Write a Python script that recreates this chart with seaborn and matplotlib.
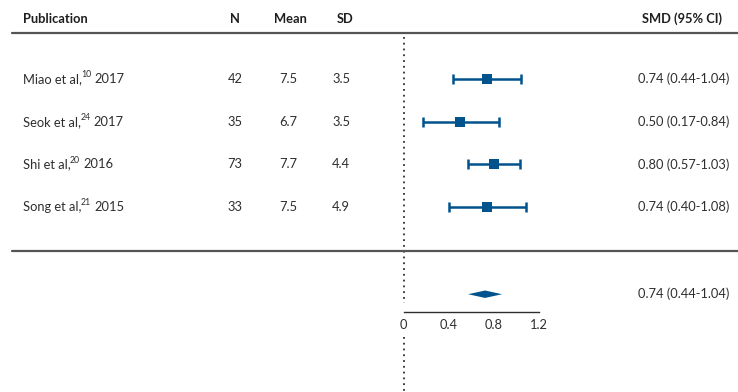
import numpy as np
import pandas as pd
import seaborn as sns
import matplotlib.pyplot as plt
from matplotlib.lines import Line2D
from matplotlib.ticker import MultipleLocator
from matplotlib.transforms import blended_transform_factory, offset_copy

sns.set_style("white")
plt.rcParams["font.family"] = ["Lato", "DejaVu Sans"]

DPI = 100
FIGSIZE = (7.38, 3.92)
BLUE = "#00538c"
TEXT = "#2e2e2e"
LINE = "#555555"
FS = 9.3
FS_SUP = 6.3

# data
AUTHORS = ["Miao et al,", "Seok et al,", "Shi et al,", "Song et al,"]
REFS = ["10", "24", "20", "21"]
YEARS = ["2017", "2017", "2016", "2015"]
N = [42, 35, 73, 33]
MEAN = [7.5, 6.7, 7.7, 7.5]
SD = [3.5, 3.5, 4.4, 4.9]
SMD = [0.74, 0.50, 0.80, 0.74]
CI_LOW = [0.44, 0.17, 0.57, 0.40]
CI_HIGH = [1.04, 0.84, 1.03, 1.08]
POOLED_LABEL = "0.74 (0.44-1.04)"
POOLED_DIAMOND = [0.57, 0.72, 0.87]  # left, centre, right as drawn
HEADERS = ["Publication", "N", "Mean", "SD", "SMD (95% CI)"]
X_TICKS = [0, 0.4, 0.8, 1.2]

df = pd.DataFrame({"author": AUTHORS, "ref": REFS, "year": YEARS, "n": N,
                   "mean": MEAN, "sd": SD, "smd": SMD, "lo": CI_LOW, "hi": CI_HIGH})
df["row"] = np.arange(len(df))
df["label"] = [f"{s:.2f} ({l:.2f}-{h:.2f})" for s, l, h in zip(df.smd, df.lo, df.hi)]

# layout (row units)
Y_HEADER = -1.41
Y_TOPLINE = -1.07
Y_MIDLINE = 4.03
Y_POOLED = 5.04
Y_AXIS = 5.45
W = 738.0

fig = plt.figure(figsize=FIGSIZE, dpi=DPI)
ax = fig.add_axes([403.7 / W, 0, 135.6 / W, 1])
ax.set_xlim(0, 1.2)
ax.set_ylim(7.33, -1.85)
tr = blended_transform_factory(fig.transFigure, ax.transData)
renderer = fig.canvas.get_renderer()

# reference line at zero
ax.vlines(0, -0.98, 5.25, colors=TEXT, linestyles=(0, (1, 2.2)), lw=1.3, clip_on=False)
ax.vlines(0, 6.04, 7.4, colors=TEXT, linestyles=(0, (1, 2.2)), lw=1.3, clip_on=False)

# study estimates
ax.errorbar(df.smd, df.row, xerr=[df.smd - df.lo, df.hi - df.smd], fmt="none",
            ecolor=BLUE, elinewidth=1.8, capsize=3.4, capthick=1.8, zorder=2)
sns.scatterplot(data=df, x="smd", y="row", marker="s", s=48, color=BLUE,
                linewidth=0, ax=ax, zorder=3, legend=False)

# pooled diamond
l, c, r = POOLED_DIAMOND
h = 0.087
ax.fill([l, c, r, c], [Y_POOLED, Y_POOLED - h, Y_POOLED, Y_POOLED + h],
        color=BLUE, lw=0, zorder=3)

# x axis
for side in ["top", "left", "right"]:
    ax.spines[side].set_visible(False)
ax.spines["bottom"].set_position(("data", Y_AXIS))
ax.spines["bottom"].set_color(TEXT)
ax.spines["bottom"].set_linewidth(1.0)
ax.set_xticks(X_TICKS)
ax.set_xticklabels([f"{t:g}" for t in X_TICKS])
ax.xaxis.set_minor_locator(MultipleLocator(0.2))
ax.tick_params(axis="x", which="both", direction="in", length=3.5, width=1,
               color=TEXT, labelsize=FS, labelcolor=TEXT, pad=5.5)
ax.set_yticks([])
ax.set_xlabel("")
ax.set_ylabel("")
ax.patch.set_visible(False)

# separator lines
for y in [Y_TOPLINE, Y_MIDLINE]:
    fig.add_artist(Line2D([12 / W, 1], [y, y], transform=tr, color=LINE, lw=1.6))

# headers
hx = [23, 235, 290, 345]
for x, txt in zip(hx, HEADERS[:4]):
    fig.text(x / W, Y_HEADER, txt, transform=tr, ha="left" if x == 23 else "center",
             va="center", fontsize=FS, fontweight="bold", color="#1e1e1e")
fig.text(722 / W, Y_HEADER, HEADERS[4], transform=tr, ha="right", va="center",
         fontsize=FS, fontweight="bold", color="#1e1e1e")


def px(p):
    return p / W


# table rows
for _, row in df.iterrows():
    y = row["row"]
    t = fig.text(px(23), y, row["author"], transform=tr, ha="left", va="center",
                 fontsize=FS, color=TEXT)
    x1 = t.get_window_extent(renderer).x1
    s = fig.text(px(x1 - 0.5), y, row["ref"], ha="left", va="center",
                 fontsize=FS_SUP, color=TEXT,
                 transform=offset_copy(tr, fig=fig, y=3.0, units="points"))
    x2 = s.get_window_extent(renderer).x1
    fig.text(px(x2 + 3), y, row["year"], transform=tr, ha="left", va="center",
             fontsize=FS, color=TEXT)
    fig.text(px(235), y, f"{row['n']}", transform=tr, ha="center", va="center",
             fontsize=FS, color=TEXT)
    fig.text(px(288), y, f"{row['mean']:.1f}", transform=tr, ha="center", va="center",
             fontsize=FS, color=TEXT)
    fig.text(px(341), y, f"{row['sd']:.1f}", transform=tr, ha="center", va="center",
             fontsize=FS, color=TEXT)
    fig.text(px(729), y, row["label"], transform=tr, ha="right", va="center",
             fontsize=FS, color=TEXT)

fig.text(px(729), Y_POOLED, POOLED_LABEL, transform=tr, ha="right", va="center",
         fontsize=FS, color=TEXT)

fig.savefig("out.png", dpi=DPI)
